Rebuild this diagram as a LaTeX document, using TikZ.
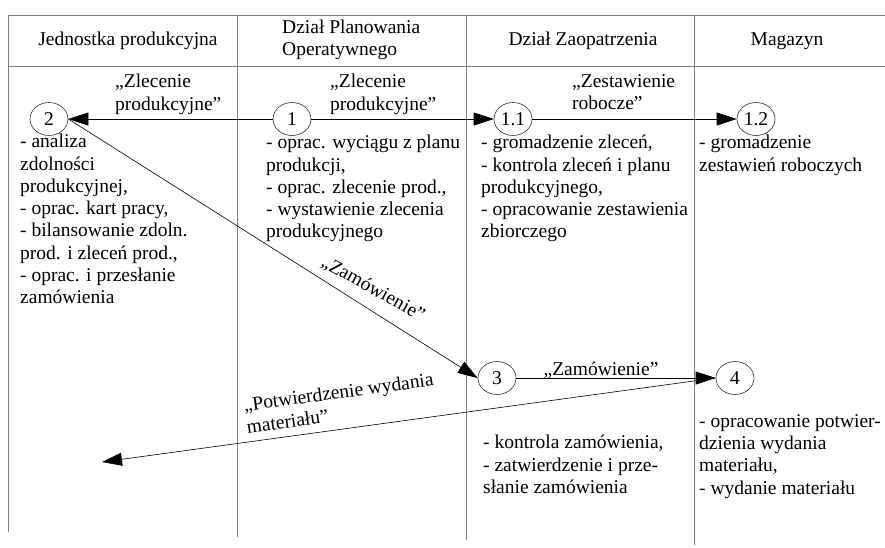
\documentclass[tikz,border=0pt]{standalone}
\usepackage{fontspec}
\setmainfont{Liberation Serif}
\usetikzlibrary{arrows.meta,shapes.geometric}
\begin{document}
\begin{tikzpicture}[x=1pt,y=-1pt,
  grid/.style={draw=black!50, line width=0.9pt},
  proc/.style={ellipse, draw=black!80, line width=0.6pt, minimum width=38pt, minimum height=33pt, inner sep=0pt, font=\fontsize{19.5}{22.3}\selectfont},
  txt/.style={anchor=north west, align=left, inner sep=0pt, font=\fontsize{19.5}{22.3}\selectfont},
  head/.style={inner sep=0pt, align=center, font=\fontsize{19.5}{22.3}\selectfont},
  lbl/.style={inner sep=0pt, align=left, font=\fontsize{19.5}{22.3}\selectfont},
  flow/.style={draw=black, line width=0.6pt, -{Triangle[length=20pt,width=13pt]}}
]
\useasboundingbox (0,0) rectangle (885,547);
% table grid
\draw[grid] (8,15) -- (885,15);
\draw[grid] (8,66) -- (885,66);
\draw[grid] (8,15) -- (8,532);
\draw[grid] (237,15) -- (237,537);
\draw[grid] (466,15) -- (466,540);
\draw[grid] (694,15) -- (694,545);
% headers
\node[head] (h1) at (128,41) {Jednostka produkcyjna};
\node[head, anchor=west, align=left] (h2) at (282,40) {Dział Planowania\\Operatywnego};
\node[head] (h3) at (583,41) {Dział Zaopatrzenia};
\node[head] (h4) at (787,41) {Magazyn};
% process nodes
\node[proc] (n2) at (49,119) {2};
\node[proc] (n1) at (292,119) {1};
\node[proc] (n11) at (513,119) {1.1};
\node[proc] (n12) at (756,119) {1.2};
\node[proc] (n3) at (497,378) {3};
\node[proc] (n4) at (735,378) {4};
\coordinate (ret) at (102,462);
% connectors
\draw[flow] (n1) -- (n2);
\draw[flow] (n1) -- (n11);
\draw[flow] (n11) -- (n12);
\draw[flow] (n2.east) -- (n3.west);
\draw[flow] (n3) -- (n4);
\draw[flow] (n4.west) -- (ret);
% connector labels
\node[lbl, anchor=north west] (l1) at (115,74) {„Zlecenie\\produkcyjne”};
\node[lbl, anchor=north west] (l2) at (330,74) {„Zlecenie\\produkcyjne”};
\node[lbl, anchor=north west] (l3) at (572,74) {„Zestawienie\\robocze”};
\node[lbl] (l4) at (601,370) {„Zamówienie”};
\node[lbl, rotate=-29] (l5) at (373,289) {„Zamówienie”};
\node[lbl, rotate=7.7] (l6) at (340,403) {„Potwierdzenie wydania\\materiału”};
% descriptions
\node[txt] (t2) at (20,134) {- analiza\\zdolności\\produkcyjnej,\\- oprac. kart pracy,\\- bilansowanie zdoln.\\prod. i zleceń prod.,\\- oprac. i przesłanie\\zamówienia};
\node[txt] (t1) at (266,135) {- oprac. wyciągu z planu\\produkcji,\\- oprac. zlecenie prod.,\\- wystawienie zlecenia\\produkcyjnego};
\node[txt] (t11) at (481,135) {- gromadzenie zleceń,\\- kontrola zleceń i planu\\produkcyjnego,\\- opracowanie zestawienia\\zbiorczego};
\node[txt] (t12) at (699,135) {- gromadzenie\\zestawień roboczych};
\node[txt] (t3) at (483,435) {- kontrola zamówienia,\\- zatwierdzenie i prze-\\słanie zamówienia};
\node[txt] (t4) at (699,414) {- opracowanie potwier-\\dzienia wydania\\materiału,\\- wydanie materiału};
\end{tikzpicture}
\end{document}
